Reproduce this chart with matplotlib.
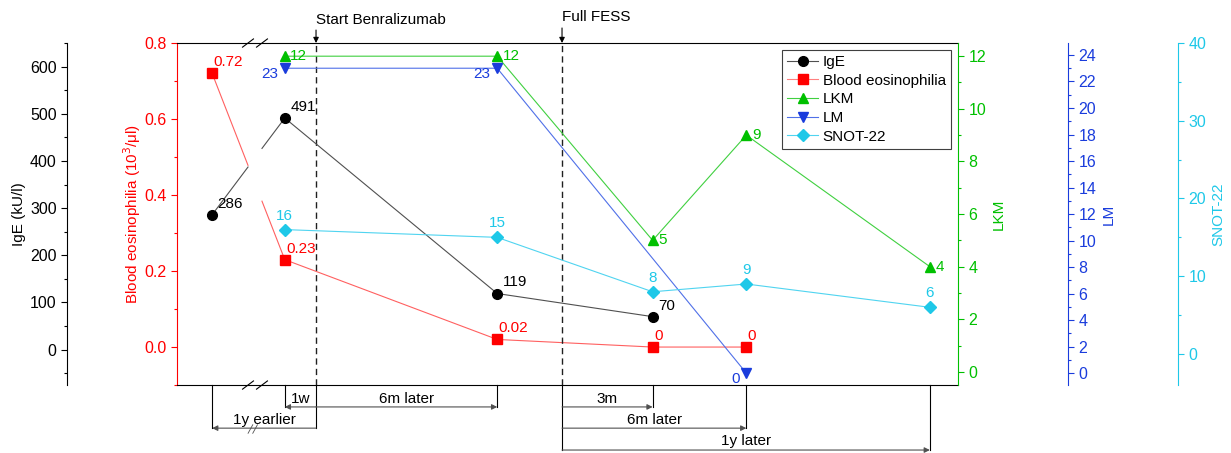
import numpy as np
import matplotlib
matplotlib.use("Agg")
import matplotlib.pyplot as plt
import matplotlib.transforms as mtransforms

plt.rcParams['font.family'] = ['Liberation Sans', 'DejaVu Sans']
plt.rcParams['font.size'] = 11

# visit positions on the (broken) time axis
visit_x = [4.5, 13.8, 41.0, 60.9, 72.9, 96.4]
benra_x = 17.8
fess_x = 49.3
break_x = (9.09, 10.88)

ige = [286, 491, 119, 70]
eos = [0.72, 0.23, 0.02, 0.0, 0.0]
eos_labels = ["0.72", "0.23", "0.02", "0", "0"]
lkm = [12, 12, 5, 9, 4]
lm = [23, 23, 0]
lm_idx = [1, 2, 4]
snot = [16, 15, 8, 9, 6]

c_eos = '#ff0000'
c_lkm = '#00c000'
c_lm = '#1a3cdc'
c_snot = '#1ec8e8'

fig = plt.figure(figsize=(12.31, 4.53), dpi=100)
ax = fig.add_axes([0.1438, 0.150, 0.6344, 0.755])
ax.set_xlim(0, 100)
ax.set_xticks([])
ax.set_ylim(-0.1, 0.8)

ax_ige = ax.twinx()
ax_lkm = ax.twinx()
ax_lm = ax.twinx()
ax_snot = ax.twinx()


def broken(xs, ys):
    # split a line at the axis break
    xs = np.asarray(xs, float)
    ys = np.asarray(ys, float)
    y0 = np.interp(break_x[0], xs[:2], ys[:2])
    y1 = np.interp(break_x[1], xs[:2], ys[:2])
    left = ([xs[0], break_x[0]], [ys[0], y0])
    right = (np.r_[break_x[1], xs[1:]], np.r_[y1, ys[1:]])
    return left, right


# eosinophilia (main axis)
(lx, ly), (rx, ry) = broken(visit_x[:5], eos)
ax.plot(lx, ly, color='#ff6060', lw=0.8)
ax.plot(rx, ry, color='#ff6060', lw=0.8)
ax.plot(visit_x[:5], eos, ls='none', marker='s', color=c_eos, ms=7)
for x, y, s in zip(visit_x[:5], eos, eos_labels):
    ax.annotate(s, (x, y), xytext=(1, 8), textcoords='offset points',
                ha='left', va='center', color=c_eos)

# IgE
(lx, ly), (rx, ry) = broken(visit_x[:4], ige)
ax_ige.plot(lx, ly, color='#505050', lw=0.8)
ax_ige.plot(rx, ry, color='#505050', lw=0.8)
ax_ige.plot(visit_x[:4], ige, ls='none', marker='o', color='black', ms=7)
for x, y in zip(visit_x[:4], ige):
    ax_ige.annotate(str(y), (x, y), xytext=(4, 8), textcoords='offset points',
                    ha='left', va='center', color='black')
ax_ige.set_ylim(-75, 650)

# LKM
ax_lkm.plot(visit_x[1:], lkm, color='#40d040', lw=0.8)
ax_lkm.plot(visit_x[1:], lkm, ls='none', marker='^', color=c_lkm, ms=7)
for x, y in zip(visit_x[1:], lkm):
    ax_lkm.annotate(str(y), (x, y), xytext=(4, 0), textcoords='offset points',
                    ha='left', va='center', color=c_lkm)
ax_lkm.set_ylim(-0.5, 12.5)

# LM
lm_x = [visit_x[i] for i in lm_idx]
ax_lm.plot(lm_x, lm, color='#5070e8', lw=0.8)
ax_lm.plot(lm_x, lm, ls='none', marker='v', color=c_lm, ms=7)
for x, y in zip(lm_x, lm):
    ax_lm.annotate(str(y), (x, y), xytext=(-5, -4), textcoords='offset points',
                   ha='right', va='center', color=c_lm)
ax_lm.set_ylim(-0.9, 24.9)

# SNOT-22
ax_snot.plot(visit_x[1:], snot, color='#50d4f0', lw=0.8)
ax_snot.plot(visit_x[1:], snot, ls='none', marker='D', color=c_snot, ms=6)
for x, y in zip(visit_x[1:], snot):
    ax_snot.annotate(str(y), (x, y), xytext=(0, 10), textcoords='offset points',
                     ha='center', va='center', color=c_snot)
ax_snot.set_ylim(-4, 40)

# spines / ticks
for a in (ax, ax_ige, ax_lkm, ax_lm, ax_snot):
    for sp in a.spines.values():
        sp.set_visible(False)
    a.tick_params(axis='y', which='major', length=4, width=0.8, labelsize=11.5)
    a.tick_params(axis='y', which='minor', length=2.5, width=0.8)

ax.spines['top'].set_visible(True)
ax.spines['bottom'].set_visible(True)
ax.spines['left'].set_visible(True)
ax.spines['left'].set_color(c_eos)
ax.yaxis.set_ticks_position('left')
ax.set_yticks([0.0, 0.2, 0.4, 0.6, 0.8])
ax.set_yticklabels(['0.0', '0.2', '0.4', '0.6', '0.8'])
ax.yaxis.set_minor_locator(matplotlib.ticker.MultipleLocator(0.1))
ax.tick_params(axis='y', which='both', colors=c_eos)
ax.set_ylabel('Blood eosinophilia (10$^3$/μl)', color=c_eos, labelpad=1)

ax_ige.spines['left'].set_visible(True)
ax_ige.spines['left'].set_position(('axes', -0.1408))
ax_ige.yaxis.set_ticks_position('left')
ax_ige.yaxis.set_label_position('left')
ax_ige.set_yticks(range(0, 700, 100))
ax_ige.yaxis.set_minor_locator(matplotlib.ticker.MultipleLocator(50))
ax_ige.set_ylabel('IgE (kU/l)', labelpad=3)

ax_lkm.spines['right'].set_visible(True)
ax_lkm.spines['right'].set_color(c_lkm)
ax_lkm.set_yticks(range(0, 13, 2))
ax_lkm.yaxis.set_minor_locator(matplotlib.ticker.MultipleLocator(1))
ax_lkm.tick_params(axis='y', which='both', colors=c_lkm)
ax_lkm.set_ylabel('LKM', color=c_lkm, labelpad=4)

ax_lm.spines['right'].set_visible(True)
ax_lm.spines['right'].set_position(('axes', 1.1409))
ax_lm.spines['right'].set_color(c_lm)
ax_lm.set_yticks(range(0, 25, 2))
ax_lm.yaxis.set_minor_locator(matplotlib.ticker.MultipleLocator(1))
ax_lm.tick_params(axis='y', which='both', colors=c_lm)
ax_lm.set_ylabel('LM', color=c_lm, labelpad=4)

ax_snot.spines['right'].set_visible(True)
ax_snot.spines['right'].set_position(('axes', 1.2817))
ax_snot.spines['right'].set_color(c_snot)
ax_snot.set_yticks(range(0, 41, 10))
ax_snot.yaxis.set_minor_locator(matplotlib.ticker.MultipleLocator(5))
ax_snot.tick_params(axis='y', which='both', colors=c_snot)
ax_snot.set_ylabel('SNOT-22', color=c_snot, labelpad=4)

# event lines
for a_x in (benra_x, fess_x):
    ax.axvline(a_x, color='#202020', ls=(0, (4.5, 3)), lw=1)

trans = mtransforms.blended_transform_factory(ax.transData, ax.transAxes)
ax.annotate('', xy=(benra_x, 1.0), xycoords=trans, xytext=(benra_x, 1.038),
            textcoords=trans, arrowprops=dict(arrowstyle='-|>', color='black', lw=0.8,
                                              mutation_scale=8, shrinkA=0, shrinkB=0))
ax.text(benra_x, 1.067, 'Start Benralizumab', transform=trans, ha='left', va='center')
ax.annotate('', xy=(fess_x, 1.0), xycoords=trans, xytext=(fess_x, 1.044),
            textcoords=trans, arrowprops=dict(arrowstyle='-|>', color='black', lw=0.8,
                                              mutation_scale=8, shrinkA=0, shrinkB=0))
ax.text(fess_x, 1.076, 'Full FESS', transform=trans, ha='left', va='center')

# axis break marks
for bx in break_x:
    for by in (0.0, 1.0):
        ax.plot([bx - 0.7, bx + 0.7], [by - 0.012, by + 0.012], transform=trans,
                color='black', lw=0.8, clip_on=False)

# timeline brackets below the axis
def bracket(x0, x1, y, label, ty):
    ax.plot([x1, x1], [0, y], transform=trans, color='black', lw=0.8, clip_on=False)
    ax.annotate('', xy=(x1, y), xycoords=trans, xytext=(x0, y), textcoords=trans,
                arrowprops=dict(arrowstyle='-|>', color='#505050', lw=0.8,
                                mutation_scale=8, shrinkA=0, shrinkB=0))
    ax.text((x0 + x1) / 2, ty, label, transform=trans, ha='center', va='center')


y1, y2, y3 = -0.064, -0.126, -0.190
ax.plot([benra_x, benra_x], [0, y2], transform=trans, color='black', lw=0.8, clip_on=False)
ax.plot([fess_x, fess_x], [0, y3], transform=trans, color='black', lw=0.8, clip_on=False)
bracket(benra_x, visit_x[0], y2, '1y earlier', -0.103)
bracket(benra_x, visit_x[1], y1, '1w', -0.04)
bracket(benra_x, visit_x[2], y1, '6m later', -0.04)
bracket(fess_x, visit_x[3], y1, '3m', -0.04)
bracket(fess_x, visit_x[4], y2, '6m later', -0.103)
bracket(fess_x, visit_x[5], y3, '1y later', -0.165)
for bx in (9.4, 10.0):
    ax.plot([bx - 0.3, bx + 0.3], [y2 - 0.015, y2 + 0.01], transform=trans,
            color='#505050', lw=0.6, clip_on=False)

# legend
handles = [
    plt.Line2D([], [], color='#505050', lw=0.8, marker='o', mfc='black', mec='black', ms=7),
    plt.Line2D([], [], color='#ff8080', lw=0.8, marker='s', mfc=c_eos, mec=c_eos, ms=7),
    plt.Line2D([], [], color='#40d040', lw=0.8, marker='^', mfc=c_lkm, mec=c_lkm, ms=7),
    plt.Line2D([], [], color='#5070e8', lw=0.8, marker='v', mfc=c_lm, mec=c_lm, ms=7),
    plt.Line2D([], [], color='#50d4f0', lw=0.8, marker='D', mfc=c_snot, mec=c_snot, ms=6),
]
leg = ax_snot.legend(handles, ['IgE', 'Blood eosinophilia', 'LKM', 'LM', 'SNOT-22'],
                     loc='upper right', borderaxespad=0.45, fancybox=False,
                     edgecolor='#404040', framealpha=1, fontsize=11,
                     handlelength=2.0, labelspacing=0.3, borderpad=0.35,
                     handletextpad=0.3)
leg.get_frame().set_linewidth(0.8)

fig.savefig('out.png', dpi=100)
